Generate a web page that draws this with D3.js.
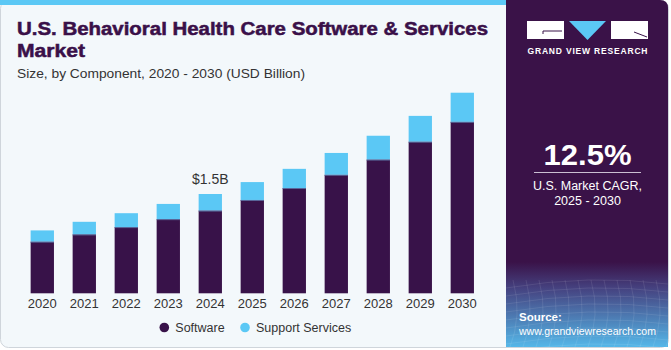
<!DOCTYPE html>
<html>
<head>
<meta charset="utf-8">
<script src="https://cdn.jsdelivr.net/npm/d3@7"></script>
<style>
  html, body { margin: 0; padding: 0; background: #ffffff; }
  svg { display: block; font-family: "Liberation Sans", Arial, sans-serif; }
</style>
</head>
<body>
<div id="chart"></div>
<script>
// --- dati (USD Billion) ---
const years    = ["2020","2021","2022","2023","2024","2025","2026","2027","2028","2029","2030"];
const software = [0.78, 0.89, 1.00, 1.12, 1.25, 1.41, 1.59, 1.79, 2.02, 2.29, 2.59];
const support  = [0.17, 0.19, 0.21, 0.23, 0.25, 0.27, 0.29, 0.33, 0.36, 0.39, 0.44];
const seriesNames = ["Software", "Support Services"];
const annotYear  = "2024";
const annotLabel = "$1.5B";

const W = 671, H = 350;
const PURPLE = "#381249", BLUE = "#5bc8f5", BG = "#f3f8fb", TXT = "#333333";
const color = { "Software": PURPLE, "Support Services": BLUE };

const svg = d3.select("#chart").append("svg").attr("width", W).attr("height", H);
const defs = svg.append("defs");

// card
svg.append("rect")
  .attr("x", 0.5).attr("y", 0.5).attr("width", 668).attr("height", 347)
  .attr("rx", 8).attr("fill", BG).attr("stroke", "#cfd5db");
// barra azzurra in alto
svg.append("rect").attr("x", 0).attr("y", 0).attr("width", 508).attr("height", 5).attr("fill", "#5bc8f5");

// --- pannello destro ---
const clip = defs.append("clipPath").attr("id", "panelClip");
clip.append("path").attr("d", "M506,0 H660 Q668,0 668,8 V347 H506 Z");
const panel = svg.append("g").attr("clip-path", "url(#panelClip)");
panel.append("rect").attr("x", 506).attr("y", 0).attr("width", 162).attr("height", 347).attr("fill", "#3a1248");

const grad = defs.append("linearGradient").attr("id", "srcGrad")
  .attr("x1", 0).attr("y1", 0).attr("x2", 0).attr("y2", 1);
grad.append("stop").attr("offset", "0").attr("stop-color", "#3a1248");
grad.append("stop").attr("offset", "0.3").attr("stop-color", "#45417f");
grad.append("stop").attr("offset", "1").attr("stop-color", "#55b9ea");
panel.append("rect").attr("x", 506).attr("y", 262).attr("width", 162).attr("height", 86).attr("fill", "url(#srcGrad)");

// reticolo leggero
const mesh = panel.append("g").attr("stroke", "#ffffff").attr("stroke-opacity", 0.13).attr("fill", "none").attr("stroke-width", 0.7);
for (let i = 0; i < 9; i++) {
  const yy = 282 + i * 8;
  mesh.append("path").attr("d", `M506,${yy + 6} Q590,${yy - 8} 668,${yy + 2}`);
}
for (let i = 0; i < 14; i++) {
  const xx = 500 + i * 13;
  mesh.append("path").attr("d", `M${xx},280 Q${xx + 10},315 ${xx - 4},350`);
}

// logo
const logo = svg.append("g");
logo.append("rect").attr("x", 527).attr("y", 21).attr("width", 37).attr("height", 18).attr("fill", "#fff");
logo.append("path").attr("d", "M543,31 H562 M543,31 V34").attr("stroke", PURPLE).attr("stroke-width", 1).attr("fill", "none");
logo.append("path").attr("d", "M569,21 H606 L587.5,40 Z").attr("fill", "#5bc8f5");
logo.append("rect").attr("x", 611).attr("y", 21).attr("width", 37).attr("height", 18).attr("fill", "#fff");
logo.append("path").attr("d", "M634,32 L647,37").attr("stroke", PURPLE).attr("stroke-width", 1);
logo.append("text").attr("x", 587.5).attr("y", 54).attr("text-anchor", "middle")
  .attr("fill", "#fff").attr("font-size", 8.5).attr("font-weight", "bold")
  .attr("textLength", 120).attr("lengthAdjust", "spacing")
  .text("GRAND VIEW RESEARCH");

// CAGR
svg.append("text").attr("x", 587.5).attr("y", 165).attr("text-anchor", "middle")
  .attr("fill", "#fff").attr("font-size", 30).attr("font-weight", "bold")
  .attr("textLength", 88).attr("lengthAdjust", "spacingAndGlyphs").text("12.5%");
svg.append("line").attr("x1", 534).attr("x2", 641).attr("y1", 172.5).attr("y2", 172.5)
  .attr("stroke", "#cbbfd3").attr("stroke-width", 1);
svg.append("text").attr("x", 587.5).attr("y", 190).attr("text-anchor", "middle")
  .attr("fill", "#fff").attr("font-size", 12.5).text("U.S. Market CAGR,");
svg.append("text").attr("x", 587.5).attr("y", 205).attr("text-anchor", "middle")
  .attr("fill", "#fff").attr("font-size", 12.5).text("2025 - 2030");

// fonte
svg.append("text").attr("x", 519).attr("y", 321).attr("fill", "#fff")
  .attr("font-size", 11.5).attr("font-weight", "bold").text("Source:");
svg.append("text").attr("x", 519).attr("y", 335).attr("fill", "#fff")
  .attr("font-size", 11.5).attr("textLength", 137).attr("lengthAdjust", "spacingAndGlyphs")
  .text("www.grandviewresearch.com");

// --- titoli ---
const titleStyle = sel => sel.attr("fill", "#3a1049").attr("stroke", "#3a1049").attr("stroke-width", 0.5)
  .attr("font-size", 18).attr("font-weight", "bold").attr("lengthAdjust", "spacingAndGlyphs");
svg.append("text").attr("x", 17).attr("y", 35).call(titleStyle).attr("textLength", 471)
  .text("U.S. Behavioral Health Care Software & Services");
svg.append("text").attr("x", 17).attr("y", 56.5).call(titleStyle).attr("textLength", 68)
  .text("Market");
svg.append("text").attr("x", 17).attr("y", 77.5).attr("fill", TXT)
  .attr("font-size", 13).attr("textLength", 288).attr("lengthAdjust", "spacingAndGlyphs")
  .text("Size, by Component, 2020 - 2030 (USD Billion)");

// --- scale ---
const x = d3.scaleBand().domain(years).range([21.3, 483.3]).paddingInner(0.445).paddingOuter(0.2225);
const baseY = 293.3;
const y = d3.scaleLinear().domain([0, 3.1]).range([baseY, baseY - 3.1 * 66.2]);

const rows = years.map((yr, i) => ({ year: yr, "Software": software[i], "Support Services": support[i] }));
const stacked = d3.stack().keys(seriesNames)(rows);

const gBars = svg.append("g");
stacked.forEach(layer => {
  gBars.append("g").attr("fill", color[layer.key])
    .selectAll("rect").data(layer).enter().append("rect")
    .attr("x", d => x(d.data.year))
    .attr("y", d => y(d[1]))
    .attr("width", x.bandwidth())
    .attr("height", d => y(d[0]) - y(d[1]));
});
// sottile linea di separazione tra i segmenti
gBars.append("g").selectAll("line").data(stacked[0]).enter().append("line")
  .attr("x1", d => x(d.data.year)).attr("x2", d => x(d.data.year) + x.bandwidth())
  .attr("y1", d => y(d[1]) + 0.5).attr("y2", d => y(d[1]) + 0.5)
  .attr("stroke", "#5a6a9c").attr("stroke-width", 1);

// asse x (solo etichette)
const xAxis = svg.append("g").attr("transform", `translate(0,${baseY})`)
  .call(d3.axisBottom(x).tickSize(0).tickPadding(5.5));
xAxis.select(".domain").remove();
xAxis.selectAll("text").attr("font-size", 13).attr("fill", TXT)
  .attr("font-family", "'Liberation Sans', Arial, sans-serif");

// annotazione
const ai = years.indexOf(annotYear);
svg.append("text").attr("x", x(annotYear) + x.bandwidth() / 2).attr("y", y(software[ai] + support[ai]) - 10.5)
  .attr("text-anchor", "middle").attr("fill", TXT).attr("font-size", 14).text(annotLabel);

// legenda
const legendX = [164.3, 245];
const lg = svg.append("g");
seriesNames.forEach((name, i) => {
  lg.append("circle").attr("cx", legendX[i]).attr("cy", 327.5).attr("r", 4.8).attr("fill", color[name]);
  lg.append("text").attr("x", legendX[i] + 11).attr("y", 332).attr("fill", TXT)
    .attr("font-size", 12.5).text(name);
});
</script>
</body>
</html>
